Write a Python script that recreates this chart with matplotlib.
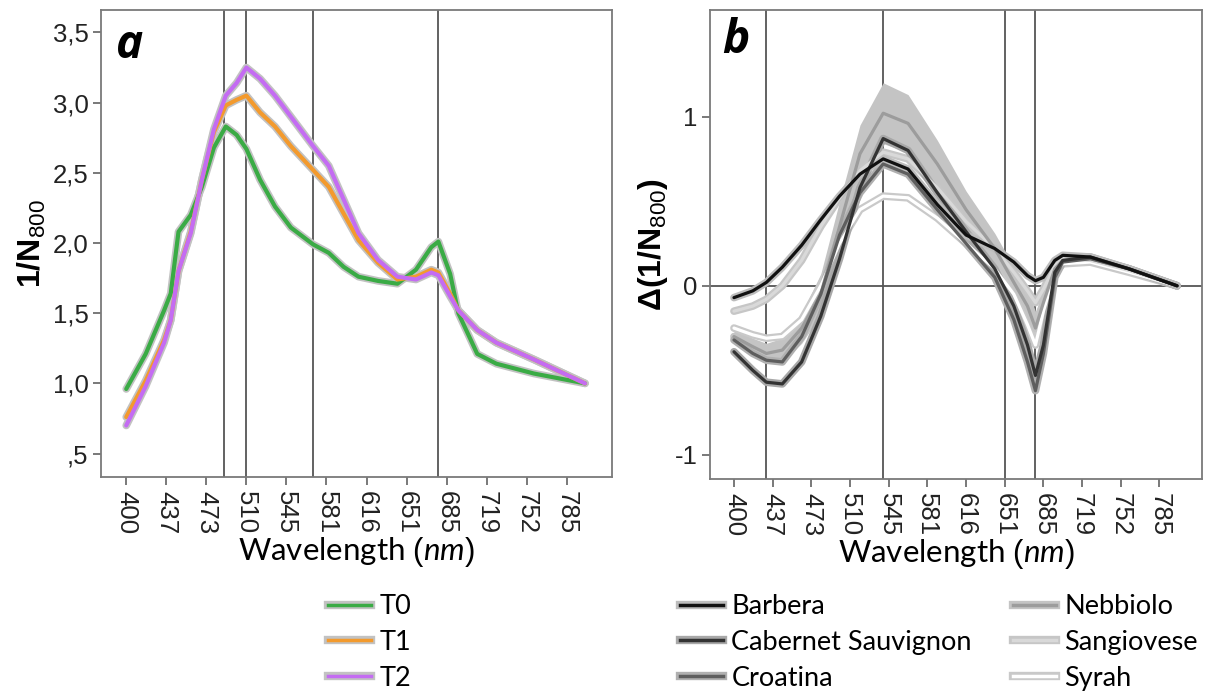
import numpy as np
import matplotlib
matplotlib.use("Agg")
import matplotlib.pyplot as plt
from matplotlib.lines import Line2D
from matplotlib.legend_handler import HandlerTuple

plt.rcParams['font.family'] = ['Liberation Sans', 'DejaVu Sans']
plt.rcParams['mathtext.fontset'] = 'custom'
plt.rcParams['mathtext.rm'] = 'Liberation Sans'
plt.rcParams['mathtext.bf'] = 'Liberation Sans:bold'
plt.rcParams['mathtext.it'] = 'Lato:italic'

# x axis categories (wavelength, nm) - evenly spaced bands on the plot
tick_nm = [400, 437, 473, 510, 545, 581, 616, 651, 685, 719, 752, 785]

# panel a: mean spectra for the three sampling times
wl_a = [400, 418, 435, 441, 448, 459, 469, 480, 491, 501, 510, 522, 535, 549, 569,
        583, 596, 609, 626, 643, 659, 672, 678, 688, 695, 711, 727, 758, 800]
t0 = [0.96, 1.21, 1.52, 1.64, 2.08, 2.20, 2.40, 2.68, 2.83, 2.77, 2.67, 2.45, 2.26, 2.11, 1.99,
      1.93, 1.83, 1.76, 1.73, 1.71, 1.81, 1.97, 2.01, 1.78, 1.50, 1.21, 1.14, 1.07, 1.00]
t1 = [0.76, 1.02, 1.31, 1.45, 1.80, 2.08, 2.45, 2.79, 2.98, 3.02, 3.05, 2.93, 2.83, 2.69, 2.52,
      2.40, 2.21, 2.02, 1.86, 1.74, 1.76, 1.81, 1.79, 1.64, 1.52, 1.38, 1.29, 1.17, 1.00]
t2 = [0.70, 0.98, 1.29, 1.45, 1.80, 2.07, 2.45, 2.81, 3.05, 3.14, 3.25, 3.17, 3.05, 2.90, 2.69,
      2.55, 2.31, 2.07, 1.88, 1.76, 1.74, 1.79, 1.77, 1.62, 1.52, 1.38, 1.29, 1.17, 1.00]
vlines_a = [489, 510, 569, 678]

# panel b: difference spectra per cultivar
wl_b = [400, 418, 431, 446, 464, 482, 500, 519, 540, 563, 590, 616, 642, 659, 671,
        678, 685, 695, 702, 726, 759, 800]
barbera = [-0.07, -0.03, 0.02, 0.11, 0.24, 0.39, 0.53, 0.66, 0.75, 0.69, 0.48, 0.30, 0.22, 0.14, 0.06,
           0.03, 0.05, 0.15, 0.18, 0.17, 0.10, 0.00]
cabernet = [-0.39, -0.50, -0.57, -0.58, -0.45, -0.18, 0.16, 0.58, 0.87, 0.80, 0.55, 0.32, 0.10, -0.12, -0.35,
            -0.53, -0.35, 0.08, 0.15, 0.17, 0.10, 0.00]
croatina = [-0.32, -0.40, -0.44, -0.45, -0.30, -0.05, 0.30, 0.55, 0.72, 0.66, 0.45, 0.25, 0.05, -0.20, -0.45,
            -0.62, -0.40, 0.05, 0.14, 0.16, 0.10, 0.00]
nebbiolo = [-0.30, -0.36, -0.40, -0.38, -0.25, -0.05, 0.35, 0.78, 1.02, 0.96, 0.72, 0.45, 0.22, 0.02, -0.12,
            -0.25, -0.10, 0.10, 0.15, 0.16, 0.10, 0.00]
nebbiolo_ci = [0.04, 0.05, 0.06, 0.07, 0.09, 0.12, 0.15, 0.17, 0.18, 0.17, 0.14, 0.11, 0.09, 0.09, 0.09,
               0.10, 0.06, 0.03, 0.02, 0.02, 0.02, 0.01]
sangiovese = [-0.15, -0.12, -0.08, 0.00, 0.15, 0.35, 0.52, 0.68, 0.79, 0.75, 0.58, 0.38, 0.22, 0.08, -0.03,
              -0.10, -0.02, 0.12, 0.16, 0.15, 0.09, 0.00]
syrah = [-0.25, -0.29, -0.31, -0.30, -0.20, 0.00, 0.25, 0.45, 0.53, 0.52, 0.40, 0.25, 0.10, -0.05, -0.23,
         -0.35, -0.15, 0.08, 0.13, 0.14, 0.08, 0.00]
vlines_b = [431, 540, 651, 678]


def band_pos(nm):
    # plot position of a wavelength on the evenly spaced band axis
    return np.interp(nm, tick_nm + [818], np.arange(len(tick_nm) + 1))


fig = plt.figure(figsize=(12.08, 6.91), dpi=100)
ax_a = fig.add_axes([101 / 1208, 1 - 477 / 691, (612 - 101) / 1208, (477 - 10) / 691])
ax_b = fig.add_axes([710 / 1208, 1 - 479 / 691, (1202 - 710) / 1208, (479 - 10) / 691])

spine_col = '#7a7a7a'
for ax in (ax_a, ax_b):
    for s in ax.spines.values():
        s.set_color(spine_col)
        s.set_linewidth(1.3)
    ax.tick_params(axis='both', direction='out', length=6, width=1.1, color='#555555',
                   labelsize=18.5, labelcolor='#222222')
    ax.set_xticks(np.arange(len(tick_nm)))
    ax.set_xticklabels([str(t) for t in tick_nm], rotation=270)
    ax.tick_params(axis='x', pad=4)
    ax.tick_params(axis='y', pad=3)
    ax.set_xlabel(r'Wavelength $\mathit{(nm)}$', family='Lato', fontsize=22.5, labelpad=1)

# ---- panel a ----
xa = band_pos(wl_a)
for yv in vlines_a:
    ax_a.axvline(band_pos(yv), color='#555555', lw=1.3, zorder=1)
series_a = [(t0, '#3aab45', 'T0'), (t1, '#f39a2d', 'T1'), (t2, '#c46cf2', 'T2')]
for ys, col, lab in series_a:
    ax_a.plot(xa, ys, color='#c2c2c2', lw=5.5, solid_capstyle='round', zorder=2)
for ys, col, lab in series_a:
    ax_a.plot(xa, ys, color=col, lw=3.0, solid_capstyle='round', zorder=3)
ax_a.set_xlim(-0.63, 12.13)
ax_a.set_ylim(0.333, 3.66)
ax_a.set_yticks([0.5, 1.0, 1.5, 2.0, 2.5, 3.0, 3.5])
ax_a.set_yticklabels([',5', '1,0', '1,5', '2,0', '2,5', '3,0', '3,5'])
ax_a.set_ylabel(r'$\mathbf{1/N}_{\mathregular{800}}$', fontsize=23, labelpad=3)
ax_a.text(0.03, 0.975, 'a', transform=ax_a.transAxes, fontsize=33, fontweight='bold',
          style='italic', family='Open Sans', va='top', ha='left')

# ---- panel b ----
xb = band_pos(wl_b)
for yv in vlines_b:
    ax_b.axvline(band_pos(yv), color='#555555', lw=1.3, zorder=1)
ax_b.axhline(0, color='#555555', lw=1.3, zorder=1)
neb = np.array(nebbiolo)
nci = np.array(nebbiolo_ci)
ax_b.fill_between(xb, neb - nci, neb + nci, color='#c4c4c4', lw=0, zorder=2)
series_b = [
    (syrah, '#ffffff', '#c9c9c9', 'Syrah'),
    (sangiovese, '#d9d9d9', '#c6c6c6', 'Sangiovese'),
    (nebbiolo, '#9c9c9c', '#c4c4c4', 'Nebbiolo'),
    (croatina, '#5e5e5e', '#b0b0b0', 'Croatina'),
    (cabernet, '#333333', '#a8a8a8', 'Cabernet Sauvignon'),
    (barbera, '#111111', '#bdbdbd', 'Barbera'),
]
for ys, col, bcol, lab in series_b:
    ax_b.plot(xb, ys, color=bcol, lw=5.5, solid_capstyle='round', zorder=2)
for ys, col, bcol, lab in series_b:
    ax_b.plot(xb, ys, color=col, lw=2.3, solid_capstyle='round', zorder=3)
ax_b.set_xlim(-0.62, 12.1)
ax_b.set_ylim(-1.142, 1.63)
ax_b.set_yticks([-1, 0, 1])
ax_b.set_yticklabels(['-1', '0', '1'])
ax_b.set_ylabel(r'$\mathbf{\Delta(1/N}_{\mathregular{800}}\mathbf{)}$', fontsize=23, labelpad=3)
ax_b.text(0.025, 0.985, 'b', transform=ax_b.transAxes, fontsize=33, fontweight='bold',
          style='italic', family='Open Sans', va='top', ha='left')

# ---- legends ----
def make_handle(col, bcol):
    return (Line2D([], [], color=bcol, lw=6), Line2D([], [], color=col, lw=2.5))

h_a = [make_handle(c, '#c2c2c2') for _, c, _ in series_a]
fig.legend(h_a, [l for _, _, l in series_a], loc='upper left',
           bbox_to_anchor=(328 / 1208, 1 - 594 / 691), frameon=False,
           handler_map={tuple: HandlerTuple(ndivide=1)},
           prop={'family': 'Lato', 'size': 19.5}, handlelength=1.6, handletextpad=0.3,
           labelspacing=0.4, borderpad=0, borderaxespad=0)

order_b = ['Barbera', 'Cabernet Sauvignon', 'Croatina', 'Nebbiolo', 'Sangiovese', 'Syrah']
lookup = {lab: (col, bcol) for _, col, bcol, lab in series_b}
h_b = [make_handle(*lookup[n]) for n in order_b]
fig.legend(h_b, order_b, loc='upper left', ncol=2,
           bbox_to_anchor=(680 / 1208, 1 - 594 / 691), frameon=False,
           handler_map={tuple: HandlerTuple(ndivide=1)},
           prop={'family': 'Lato', 'size': 19.5}, handlelength=1.6, handletextpad=0.3,
           labelspacing=0.4, columnspacing=1.5, borderpad=0, borderaxespad=0)

fig.savefig('out.png', dpi=100)
